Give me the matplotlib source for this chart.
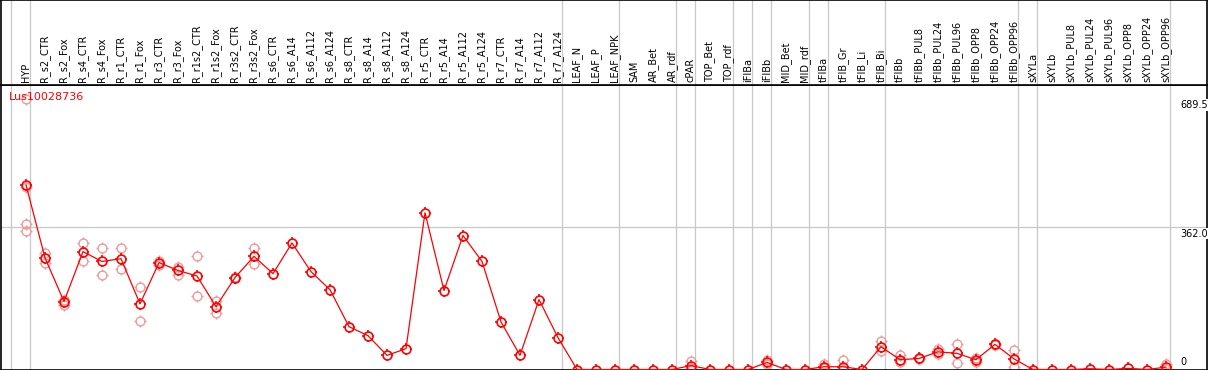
import numpy as np
import matplotlib
matplotlib.use("Agg")
import matplotlib.pyplot as plt
from matplotlib.path import Path
from matplotlib.transforms import blended_transform_factory

# sample names, in plotting order
samples = ["HYP", "R_s2_CTR", "R_s2_Fox", "R_s4_CTR", "R_s4_Fox", "R_r1_CTR", "R_r1_Fox",
           "R_r3_CTR", "R_r3_Fox", "R_r1s2_CTR", "R_r1s2_Fox", "R_r3s2_CTR", "R_r3s2_Fox",
           "R_s6_CTR", "R_s6_A14", "R_s6_A112", "R_s6_A124", "R_s8_CTR", "R_s8_A14",
           "R_s8_A112", "R_s8_A124", "R_r5_CTR", "R_r5_A14", "R_r5_A112", "R_r5_A124",
           "R_r7_CTR", "R_r7_A14", "R_r7_A112", "R_r7_A124", "LEAF_N", "LEAF_P", "LEAF_NPK",
           "SAM", "AR_Bet", "AR_rdf", "cPAR", "TOP_Bet", "TOP_rdf", "iFIBa", "iFIBb",
           "MID_Bet", "MID_rdf", "tFIBa", "tFIB_Gr", "tFIB_Li", "tFIB_Bi", "tFIBb",
           "tFIBb_PUL8", "tFIBb_PUL24", "tFIBb_PUL96", "tFIBb_OPP8", "tFIBb_OPP24",
           "tFIBb_OPP96", "sXYLa", "sXYLb", "sXYLb_PUL8", "sXYLb_PUL24", "sXYLb_PUL96",
           "sXYLb_OPP8", "sXYLb_OPP24", "sXYLb_OPP96"]

# mean expression per sample
means = [470, 284, 173, 300, 275, 282, 167, 272, 252, 238, 160, 234, 288,
         244, 322, 249, 203, 109, 86, 36, 53, 399, 201, 341, 275,
         121, 36, 178, 81, 0, 0, 0,
         0, 0, 0, 10, 0, 0, 0, 18,
         0, 0, 7, 7, 0, 58, 25,
         28, 45, 41, 25, 64,
         27, 0, 0, 0, 2, 0,
         3, 0, 6]

# individual replicates (only where they show apart from the mean)
replicates = {
    "HYP": [689.5, 464, 371, 353],
    "R_s2_CTR": [297, 270],
    "R_s2_Fox": [178, 165],
    "R_s4_CTR": [322, 277],
    "R_s4_Fox": [310, 241],
    "R_r1_CTR": [308, 256],
    "R_r1_Fox": [209, 124],
    "R_r3_CTR": [276, 266],
    "R_r3_Fox": [260, 241],
    "R_r1s2_CTR": [289, 188],
    "R_r1s2_Fox": [174, 145],
    "R_r3s2_CTR": [236, 232],
    "R_r3s2_Fox": [310, 268],
    "cPAR": [21, 3, 0],
    "iFIBb": [23, 15],
    "tFIBa": [14, 3],
    "tFIB_Gr": [23, 0],
    "tFIB_Bi": [73, 47],
    "tFIBb": [36, 18],
    "tFIBb_PUL8": [30, 26],
    "tFIBb_PUL24": [52, 40],
    "tFIBb_PUL96": [64, 17],
    "tFIBb_OPP8": [29, 20],
    "tFIBb_OPP24": [66, 62],
    "tFIBb_OPP96": [50, 6],
    "sXYLb_OPP96": [14, 2],
}

# group boundaries sit after these samples
group_ends = ["HYP", "R_r7_A124", "LEAF_NPK", "AR_rdf", "cPAR", "TOP_rdf", "iFIBa", "iFIBb",
              "MID_rdf", "tFIBa", "tFIB_Bi", "tFIBb_OPP96", "sXYLa", "sXYLb_OPP96"]

gene = "Lus10028736"
ref_line = 362.0

W, H = 1209, 370
fig = plt.figure(figsize=(W / 100, H / 100), dpi=100)
ax = fig.add_axes([1 / W, 0.5 / H, 1206 / W, 284.5 / H])
hd = fig.add_axes([1 / W, 285 / H, 1206 / W, 85 / H])

x = np.arange(len(samples))
xmin = -25 / 19
xmax = xmin + 1206 / 19
ymax = 724

for a in (ax, hd):
    a.set_xlim(xmin, xmax)
    a.set_xticks([])
    a.set_yticks([])
    for s in a.spines.values():
        s.set_color("black")
        s.set_linewidth(1.2)
ax.set_ylim(0, ymax)
hd.set_ylim(0, 1)

# separators between sample groups
seps = [-1 + 4 / 19] + [samples.index(g) + 4 / 19 for g in group_ends]
for sx in seps:
    ax.axvline(sx, color="#c8c8c8", lw=0.9, zorder=1)
    hd.axvline(sx, color="#c8c8c8", lw=0.9, zorder=1)
ax.axhline(ref_line, color="#c8c8c8", lw=0.9, zorder=1)

# marker = open circle plus four short ticks
t = 1.32
ticks = Path([(0, 1), (0, t), (0, -1), (0, -t), (1, 0), (t, 0), (-1, 0), (-t, 0)],
             [Path.MOVETO, Path.LINETO] * 4)
ms_tick = 8.4
ms_circ = ms_tick / t


def draw_marks(xs, ys, color, mew, z):
    ax.plot(xs, ys, linestyle="none", marker="o", ms=ms_circ, mfc="none",
            mec=color, mew=mew, zorder=z)
    ax.plot(xs, ys, linestyle="none", marker=ticks, ms=ms_tick, mfc="none",
            mec=color, mew=mew, zorder=z)


for name, vals in replicates.items():
    i = samples.index(name)
    draw_marks([i] * len(vals), vals, "#f09a9a", 1.0, 2)

ax.plot(x, means, color="red", lw=0.9, zorder=3)
draw_marks(x, means, "red", 1.2, 4)

for i, name in enumerate(samples):
    hd.text(i, 3 / 85, name, rotation=90, ha="center", va="bottom",
            fontsize=7, family="DejaVu Sans")

ax.text(8 / 1206, (369.5 - 97) / 284.5, gene, transform=ax.transAxes,
        color="red", fontsize=8, ha="left", va="center")

top_val = max(max(v) for v in replicates.values())
tr = blended_transform_factory(ax.transAxes, ax.transData)
bb = dict(facecolor="white", edgecolor="none", pad=0.5)
lx = 1179 / 1206
ax.text(lx, top_val - 1.5 / 0.393, f"{top_val:.1f}", transform=tr, ha="left",
        va="top", fontsize=7, bbox=bb, zorder=5)
ax.text(lx, ref_line - 1.5 / 0.393, f"{ref_line:.1f}", transform=tr, ha="left",
        va="top", fontsize=7, bbox=bb, zorder=5)
ax.text(lx, 3 / 0.393, "0", transform=tr, ha="left", va="bottom",
        fontsize=7, zorder=5)

fig.savefig("out.png", dpi=100)
